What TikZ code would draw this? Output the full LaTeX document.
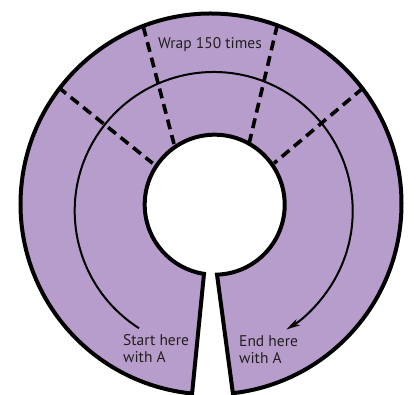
\documentclass[tikz,border=0pt]{standalone}
\usepackage{fontspec}
\setmainfont{PT Sans}
\usetikzlibrary{arrows.meta}
\definecolor{lav}{RGB}{183,157,203}
\definecolor{ink}{RGB}{35,31,32}
\begin{document}
\begin{tikzpicture}[x=1pt,y=1pt,
  rim/.style={draw=black,line width=4pt,line join=miter},
  fold/.style={draw=black,line width=3.6pt,dash pattern=on 10pt off 6pt},
  route/.style={draw=black,line width=2pt,-{Stealth[length=14pt,width=7pt,inset=4pt]}},
  lbl/.style={font=\fontsize{15.5}{17}\selectfont,inner sep=0pt,align=left,text=ink}]
\useasboundingbox (0,0) rectangle (416,395);
\coordinate (OC) at (211,191);
\coordinate (IC) at (214.7,190.3);
\coordinate (MC) at (213.7,184);
% filled ring
\path[fill=lav] ([shift={(264.3:190.5)}]OC) arc[start angle=264.3,end angle=-83.4,radius=190.5]
  -- ([shift={(-88.1:70)}]IC) arc[start angle=-88.1,end angle=261.2,radius=70] -- cycle;
% fold lines
\coordinate (a1) at (58.3,307.7); \coordinate (b1) at (152.7,231.7);
\coordinate (a2) at (143.3,368.3); \coordinate (b2) at (174,251);
\coordinate (a3) at (277.3,370); \coordinate (b3) at (249.3,252.3);
\coordinate (a4) at (362.7,306.7); \coordinate (b4) at (274,231.7);
\draw[fold] (a1) -- (b1);
\draw[fold] (a2) -- (b2);
\draw[fold] (a3) -- (b3);
\draw[fold] (a4) -- (b4);
% winding route
\draw[route] ([shift={(237.5:139)}]MC) arc[start angle=237.5,end angle=-58.5,radius=139];
% outline
\path[rim] ([shift={(264.3:190.5)}]OC) arc[start angle=264.3,end angle=-83.4,radius=190.5]
  -- ([shift={(-88.1:70)}]IC) arc[start angle=-88.1,end angle=261.2,radius=70] -- cycle;
% labels
\node[lbl] (wrap) at (210,350) {Wrap 150 times};
\node[lbl,anchor=west] (start) at (123,46.5) {Start here\\with A};
\node[lbl,anchor=west] (end) at (239,45) {End here\\with A};
\end{tikzpicture}
\end{document}
